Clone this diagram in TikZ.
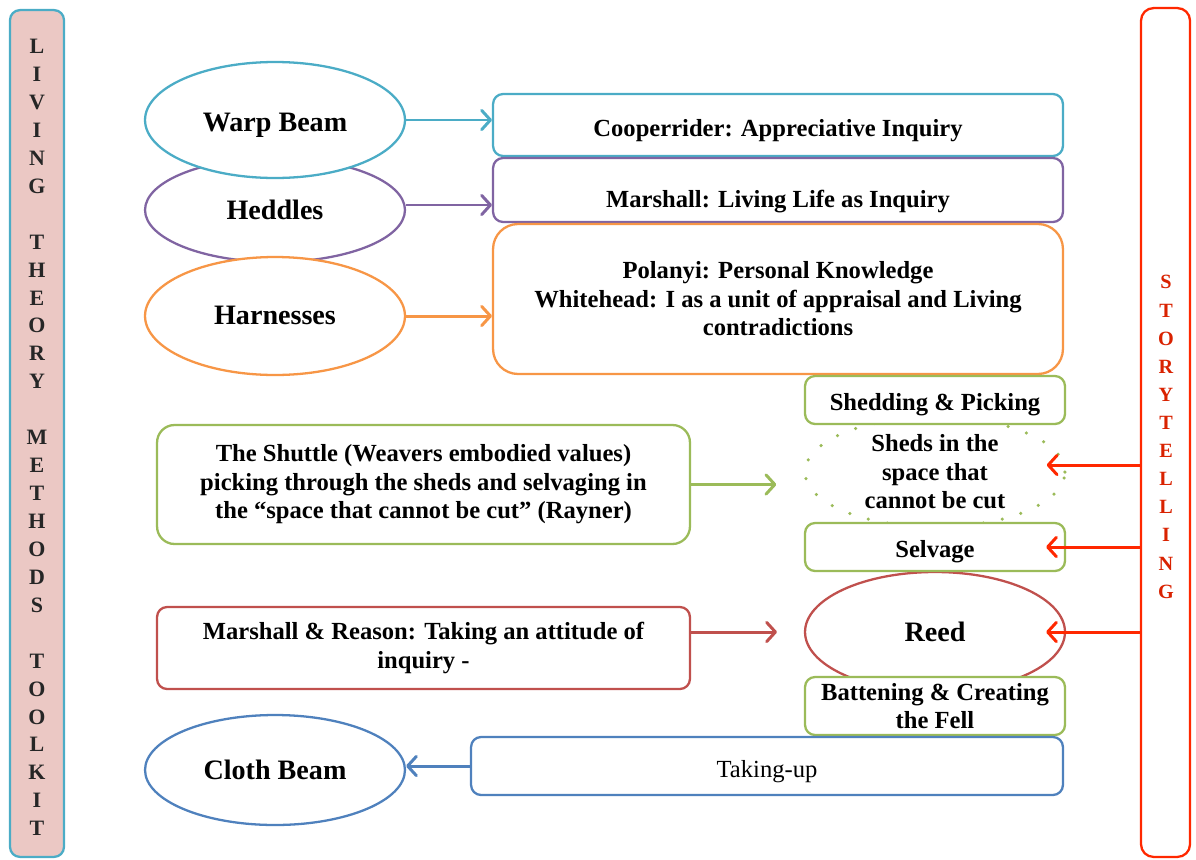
\documentclass[tikz,border=0pt]{standalone}
\usepackage{fontspec}
\setmainfont{Liberation Serif}
\usepackage{xcolor}
\usepackage{tikz}
\usetikzlibrary{arrows.meta}
\usetikzlibrary{shapes.geometric}

\definecolor{warpblue}{RGB}{75,172,198}
\definecolor{heddlepurple}{RGB}{128,100,162}
\definecolor{harnessorange}{RGB}{247,150,70}
\definecolor{shuttlegreen}{RGB}{155,187,89}
\definecolor{reedred}{RGB}{192,80,77}
\definecolor{clothblue}{RGB}{79,129,189}
\definecolor{storyred}{RGB}{255,40,0}
\definecolor{barpink}{RGB}{235,200,196}

\tikzset{
  oval/.style={ellipse, draw, line width=1.3pt, fill=white, minimum width=5.2cm,
    font=\fontsize{16}{19}\selectfont\bfseries, inner sep=0pt},
  box/.style={rectangle, rounded corners=0.2cm, draw, line width=1.3pt, fill=white,
    align=center, font=\fontsize{14}{16.2}\selectfont\bfseries, inner sep=0pt},
  lowtext/.style={text height=#1, text depth=3pt},
  letters/.style={align=center, inner sep=0pt},
  link/.style={line width=1.7pt, -{Straight Barb[round,length=5pt,width=11pt]}},
}

\begin{document}
\begin{tikzpicture}[x=0.02cm, y=-0.02cm]
\useasboundingbox (0,0) rectangle (1196,859);

\node[box, fill=barpink, draw=warpblue, minimum width=1.08cm, minimum height=16.94cm] (living) at (37,433.5) {};
\node[letters, font=\fontsize{12.5}{15.9}\selectfont\bfseries, text=black!85] (livingtext) at (37,437.5)
  {L\\I\\V\\I\\N\\G\\ \\T\\H\\E\\O\\R\\Y\\ \\M\\E\\T\\H\\O\\D\\S\\ \\T\\O\\O\\L\\K\\I\\T};
\node[box, draw=storyred, rounded corners=0.25cm, minimum width=0.98cm, minimum height=16.98cm] (story) at (1165.5,432.5) {};
\node[letters, font=\fontsize{11.5}{16}\selectfont\bfseries, text=storyred!85!black] (storytext) at (1166,437)
  {S\\T\\O\\R\\Y\\T\\E\\L\\L\\I\\N\\G};

\node[oval, draw=heddlepurple, minimum height=2.08cm] (heddles) at (275,210) {Heddles};
\node[oval, draw=warpblue, minimum height=2.32cm, lowtext=16pt] (warp) at (275,120) {Warp Beam};
\node[oval, draw=harnessorange, minimum height=2.36cm, lowtext=13pt] (harness) at (275,316) {Harnesses};
\node[oval, draw=clothblue, minimum height=2.2cm] (cloth) at (275,770) {Cloth Beam};

\node[box, draw=warpblue, minimum width=11.4cm, minimum height=1.24cm, lowtext=16pt] (coop) at (778,125)
  {Cooperrider: Appreciative Inquiry};
\node[box, draw=heddlepurple, minimum width=11.4cm, minimum height=1.28cm, lowtext=23pt] (marsh) at (778,190)
  {Marshall: Living Life as Inquiry};
\node[box, draw=harnessorange, rounded corners=0.5cm, minimum width=11.4cm, minimum height=3cm] (polanyi) at (778,299)
  {Polanyi: Personal Knowledge\\Whitehead: I as a unit of appraisal and Living\\contradictions};

\node[oval, draw=shuttlegreen, fill=none, minimum height=2.2cm, line width=2pt, line cap=round,
  dash pattern=on 0pt off 11pt, font=\fontsize{14}{16.2}\selectfont\bfseries, align=center] (sheds) at (935,472)
  {Sheds in the\\space that\\cannot be cut};
\node[box, draw=shuttlegreen, minimum width=5.2cm, minimum height=0.96cm, lowtext=15pt] (shedpick) at (935,400)
  {Shedding \& Picking};
\node[oval, draw=reedred, minimum height=2.4cm] (reed) at (935,632) {Reed};
\node[box, draw=shuttlegreen, minimum width=5.2cm, minimum height=0.96cm, lowtext=15pt] (selvage) at (935,547)
  {Selvage};
\node[box, draw=shuttlegreen, minimum width=5.2cm, minimum height=1.16cm] (batten) at (935,706)
  {Battening \& Creating\\the Fell};
\node[box, draw=clothblue, minimum width=11.84cm, minimum height=1.16cm, lowtext=16pt,
  font=\fontsize{14}{16.2}\selectfont] (takeup) at (767,766)
  {Taking-up};

\node[box, draw=shuttlegreen, rounded corners=0.35cm, minimum width=10.66cm, minimum height=2.38cm] (shuttle) at (423.5,484.5)
  {The Shuttle (Weavers embodied values)\\picking through the sheds and selvaging in\\the “space that cannot be cut” (Rayner)};
\node[box, draw=reedred, minimum width=10.66cm, minimum height=1.64cm] (reason) at (423.5,648)
  {Marshall \& Reason: Taking an attitude of\\inquiry -};

\draw[link, warpblue] (warp.east) -- (warp.east -| coop.west);
\draw[link, heddlepurple] ([yshift=0.1cm]heddles.east) -- ([yshift=0.1cm]heddles.east -| marsh.west);
\draw[link, harnessorange] (harness.east) -- (harness.east -| polanyi.west);
\draw[link, shuttlegreen, shorten >=0.54cm] (shuttle.east) -- (shuttle.east -| sheds.west);
\draw[link, reedred, shorten >=0.54cm] (reed.west -| reason.east) -- (reed.west);
\draw[link, clothblue] (takeup.west) -- (takeup.west -| cloth.east);

\draw[link, storyred] ([yshift=0.14cm]story.west |- sheds.east) -- ([xshift=-0.4cm,yshift=0.14cm]sheds.east);
\draw[link, storyred] (story.west |- selvage.east) -- ([xshift=-0.4cm]selvage.east);
\draw[link, storyred] (story.west |- reed.east) -- ([xshift=-0.4cm]reed.east);
\end{tikzpicture}
\end{document}
